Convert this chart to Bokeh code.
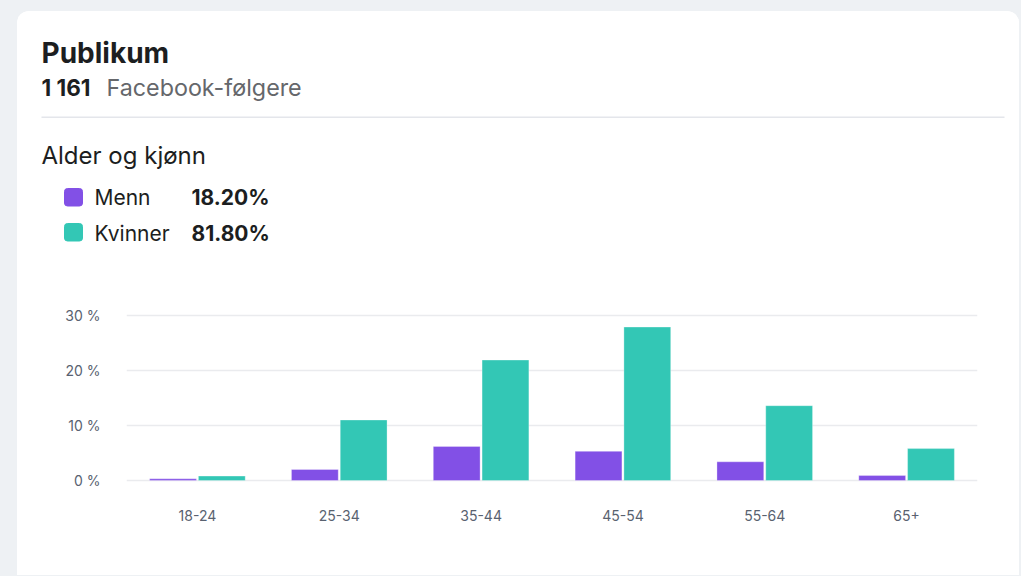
from bokeh.plotting import figure
from bokeh.models import ColumnDataSource, FactorRange, Range1d, Label, FixedTicker
from bokeh.transform import dodge
from bokeh.embed import file_html
from bokeh.resources import INLINE

# ---- data ----
title = "Publikum"
follower_count = "1 161"
follower_label = "Facebook-følgere"
section_title = "Alder og kjønn"
age_groups = ["18-24", "25-34", "35-44", "45-54", "55-64", "65+"]
men = [0.3, 2.0, 6.2, 5.3, 3.4, 0.9]
women = [0.8, 11.0, 21.9, 27.9, 13.6, 5.8]
series_names = ["Menn", "Kvinner"]
series_shares = ["18.20%", "81.80%"]
series_colors = ["#8250e6", "#33c7b5"]
y_ticks = [0, 10, 20, 30]
y_tick_labels = ["0 %", "10 %", "20 %", "30 %"]

FONT = "Inter"
DARK = "#1c1e21"
GRAY = "#65676b"

# page geometry: card starts at page x=17, y=11
OX, OY = 17, 11
W = 1002
H1 = 259                         # header part of the card
H2 = 305                         # chart part of the card
FRAME_L, FRAME_R = 126, 977      # page x of chart frame
FRAME_T, FRAME_B = 297, 483      # page y of chart frame
PX_PER_PCT = 5.5
Y_ZERO = 480                     # page y of the 0 % line
CHART_TOP = OY + H1

# ---- header figure (data units == pixels, y downwards) ----
hdr = figure(width=W, height=H1, x_range=Range1d(0, W), y_range=Range1d(H1, 0),
             x_axis_type=None, y_axis_type=None, toolbar_location=None,
             output_backend="svg", min_border=0)
hdr.styles = {"border-top-left-radius": "12px", "border-top-right-radius": "12px",
              "overflow": "hidden", "background-color": "white"}
hdr.outline_line_color = None
hdr.background_fill_color = "white"
hdr.border_fill_color = "white"

def hx(px):
    return px - OX

def hy(py):
    return py - OY

def lab(px, py, text, size, color=DARK, bold=False):
    # baseline correction measured from the render
    hdr.add_layout(Label(x=hx(px), y=hy(py) - 0.38 * size, text=text, text_font=FONT,
                         text_font_size=f"{size}px", text_color=color,
                         text_font_style="bold" if bold else "normal",
                         text_baseline="alphabetic", text_align="left"))

lab(41, 63, title, 28, bold=True)
lab(41, 96, follower_count, 22.5, bold=True)
lab(106, 96, follower_label, 23.3, color=GRAY)
hdr.segment(x0=[hx(41)], y0=[hy(116.75)], x1=[hx(1004)], y1=[hy(116.75)],
            line_color="#e4e6eb", line_width=1.5)
lab(41, 164, section_title, 24)

sq_top = [188, 223]
row_base = [205, 241]
for name, share, col, t, b in zip(series_names, series_shares, series_colors, sq_top, row_base):
    hdr.quad(left=[hx(64)], right=[hx(82)], top=[hy(t)], bottom=[hy(t + 17.5)],
             fill_color=col, line_color=col, border_radius=3)
    lab(94, b, name, 21)
    lab(191, b, share, 21, bold=True)

# ---- chart figure ----
src = ColumnDataSource(dict(age=age_groups, men=men, women=women))
p = figure(x_range=FactorRange(*age_groups),
           y_range=Range1d((Y_ZERO - FRAME_B) / PX_PER_PCT, (Y_ZERO - FRAME_T) / PX_PER_PCT),
           width=W, height=H2,
           min_border_left=FRAME_L - OX, min_border_right=OX + W - FRAME_R,
           min_border_top=FRAME_T - CHART_TOP, min_border_bottom=CHART_TOP + H2 - FRAME_B,
           toolbar_location=None, output_backend="svg")
p.styles = {"background-color": "white"}
p.outline_line_color = None
p.background_fill_color = "white"
p.border_fill_color = "white"

p.vbar(x=dodge("age", -0.172, range=p.x_range), top="men", width=0.33, source=src,
       fill_color=series_colors[0], line_color="white", line_alpha=0.3)
p.vbar(x=dodge("age", 0.172, range=p.x_range), top="women", width=0.33, source=src,
       fill_color=series_colors[1], line_color="white", line_alpha=0.3)

p.xgrid.grid_line_color = None
p.ygrid.ticker = FixedTicker(ticks=y_ticks)
p.ygrid.grid_line_color = "#eaebee"
p.ygrid.grid_line_width = 1.5
p.ygrid.level = "underlay"

p.yaxis.ticker = FixedTicker(ticks=y_ticks)
p.yaxis.major_label_overrides = {t: l for t, l in zip(y_ticks, y_tick_labels)}
for ax in (p.xaxis[0], p.yaxis[0]):
    ax.axis_line_color = None
    ax.major_tick_line_color = None
    ax.minor_tick_line_color = None
    ax.major_tick_out = 0
    ax.major_tick_in = 0
    ax.minor_tick_out = 0
    ax.major_label_text_font = FONT
    ax.major_label_text_font_size = "14px"
    ax.major_label_text_color = "#596270"
p.yaxis.major_label_standoff = 26
p.xaxis.major_label_standoff = 26

html = file_html([hdr, p], INLINE, title="Publikum")
css = ("<style>html, body { margin: 0 !important; padding: 0 !important; "
       "background-color: #eef1f4 !important; overflow: hidden; } "
       "body { display: flex; flex-direction: column; align-items: flex-start; "
       "padding: 11px 0 0 17px !important; gap: 0; }</style>")
html = html.replace("</head>", css + "</head>", 1)
open("out.html", "w").write(html)
